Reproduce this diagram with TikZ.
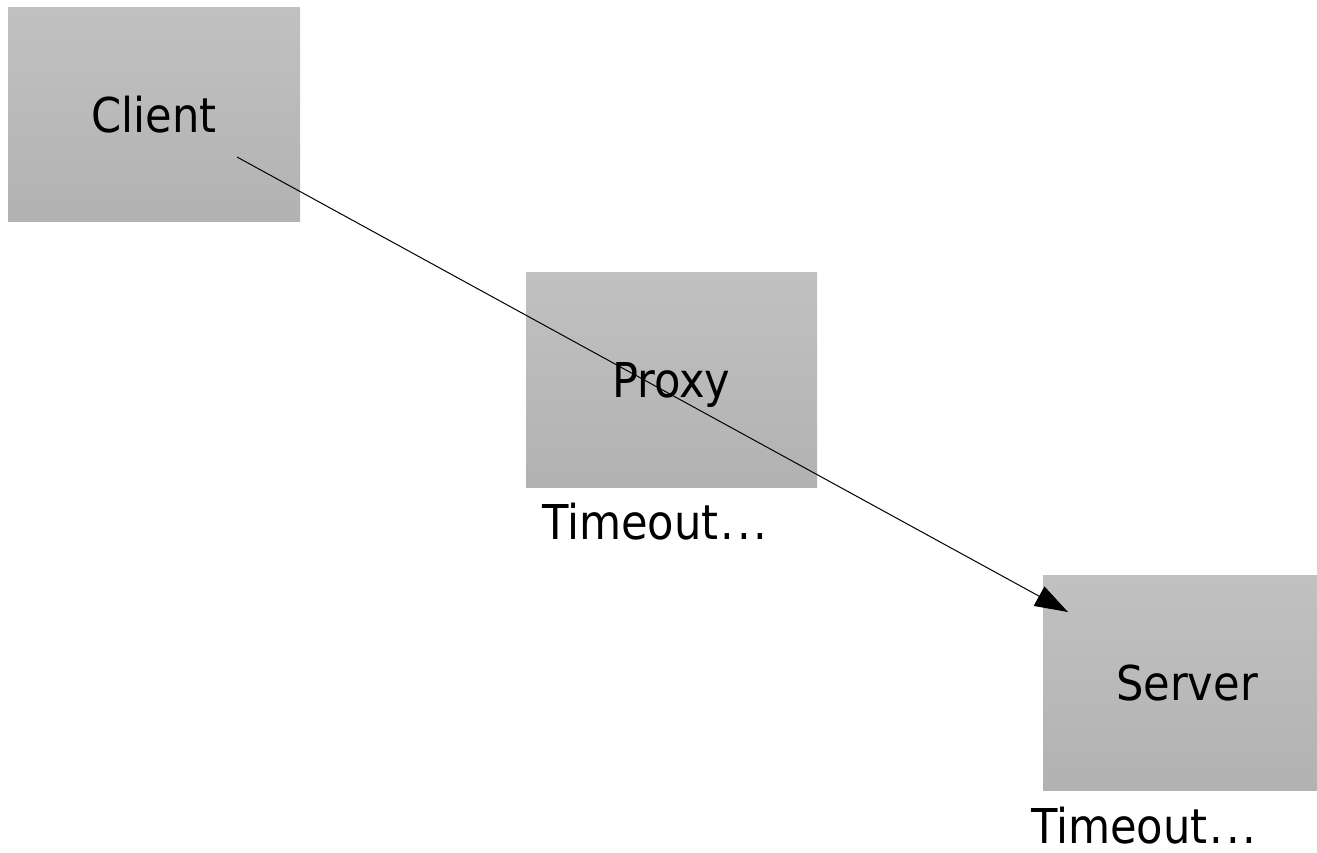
\documentclass[tikz,border=0pt]{standalone}
\usepackage{fontspec}
\setmainfont{DejaVu Sans Condensed}
\usetikzlibrary{arrows.meta}
\tikzset{
  box/.style={top color=boxtop, bottom color=boxbot, draw=none},
  lbl/.style={font=\fontsize{48}{56}\selectfont, anchor=base, inner sep=0pt},
  conn/.style={draw=black, line width=1pt, -{Triangle[length=33pt,width=22pt]}}
}
\newcommand{\tmout}{Timeout\kern2pt.\kern3pt.\kern3pt.}
\definecolor{boxtop}{HTML}{C1C1C1}
\definecolor{boxbot}{HTML}{B2B2B2}
\begin{document}
\begin{tikzpicture}[x=1pt,y=-1pt]
\clip (0,0) rectangle (1317,853);
\fill[white] (0,0) rectangle (1317,853);
\path[box] (8,8) rectangle (300,222);
\path[box] (526,272) rectangle (817,487);
\path[box] (1043,575) rectangle (1334,790);
\node[lbl] (client) at (154,132.5) {Client};
\node[lbl] (proxy) at (671.5,397) {Proxy};
\node[lbl] (server) at (1187,700) {Server};
\node[lbl] (t1) at (655,539) {\tmout};
\node[lbl] (t2) at (1144,843) {\tmout};
\coordinate (s) at (237,157);
\coordinate (e) at (1068,612);
\draw[conn] (s) -- (e);
\end{tikzpicture}
\end{document}
